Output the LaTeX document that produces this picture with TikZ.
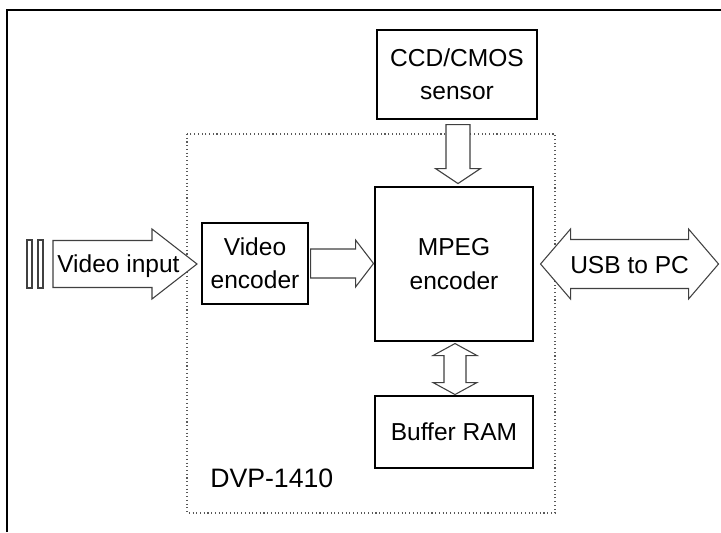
\documentclass[tikz,border=0pt]{standalone}
\usepackage{fontspec}
\setmainfont{Liberation Sans}
\usetikzlibrary{calc}

\tikzset{
  boxtext/.style={font=\fontsize{18.4}{25}\selectfont},
  blockbox/.style={draw=black, line width=0.8pt, inner sep=0pt, align=center, boxtext},
  fatarrow/.style={draw=black!75, line width=0.8pt, fill=white, line join=miter},
  % hollow arrow with one head: length, shaft half width, head half width, head length
  pics/onehead/.style n args={4}{code={
    \draw[fatarrow] (0,-#2) -- (#1-#4,-#2) -- (#1-#4,-#3) -- (#1,0)
      -- (#1-#4,#3) -- (#1-#4,#2) -- (0,#2) -- cycle;
  }},
  % hollow arrow with heads at both ends
  pics/twohead/.style n args={4}{code={
    \draw[fatarrow] (0,0) -- (#4,-#3) -- (#4,-#2) -- (#1-#4,-#2) -- (#1-#4,-#3)
      -- (#1,0) -- (#1-#4,#3) -- (#1-#4,#2) -- (#4,#2) -- (#4,#3) -- cycle;
  }},
}

\begin{document}
\begin{tikzpicture}[x=0.75pt, y=-0.75pt]
  \useasboundingbox (0,0) rectangle (721,532);

  % outer frame (only top and left edges fall inside the page)
  \draw[line width=1.6pt] (7,532) -- (7,10) -- (721,10);

  % board outline
  \draw[dotted, black!65, line width=0.8pt] (187,134) rectangle (555,513);
  \node[font=\fontsize{20}{24}\selectfont, inner sep=0pt, anchor=base west] (dvp) at (210,487) {DVP-1410};

  % blocks (sizes in pt: 1 unit = 0.75pt)
  \node[blockbox, minimum width=120pt, minimum height=66.75pt] (ccd) at (457,74.5) {CCD/CMOS\\sensor};
  \node[blockbox, minimum width=118.5pt, minimum height=115.5pt] (mpeg) at (454,264) {MPEG\\encoder};
  \node[blockbox, minimum width=118.5pt, minimum height=54pt] (buf) at (454,432) {Buffer RAM};
  \node[blockbox, minimum width=79.5pt, minimum height=60.75pt] (venc) at (255,263.5) {Video\\encoder};

  % connectors between blocks
  \pic at ($(venc.east)+(2,0)$) {onehead={63}{14.5}{23.5}{18}};
  \pic[rotate=-90] at ($(ccd.south)+(1,5)$) {onehead={59}{12}{22.5}{15}};
  \pic[rotate=-90] at ($(mpeg.south)+(1,2)$) {twohead={51}{11}{22}{12}};
  \pic at ($(mpeg.east)+(7,0)$) {twohead={178}{24.5}{35}{30}};

  % video input connector
  \coordinate (vstart) at (53,264);
  \pic at (vstart) {onehead={144}{23.5}{35}{45}};
  \draw[black!75, line width=0.8pt] (27,240) rectangle (32,288);
  \draw[black!75, line width=0.8pt] (38,240) rectangle (43,288);

  % arrow labels
  \node[boxtext, inner sep=0pt, anchor=base west] (vin) at (57,272) {Video input};
  \node[boxtext, inner sep=0pt, anchor=base west] (usb) at (570,273) {USB to PC};
\end{tikzpicture}
\end{document}
